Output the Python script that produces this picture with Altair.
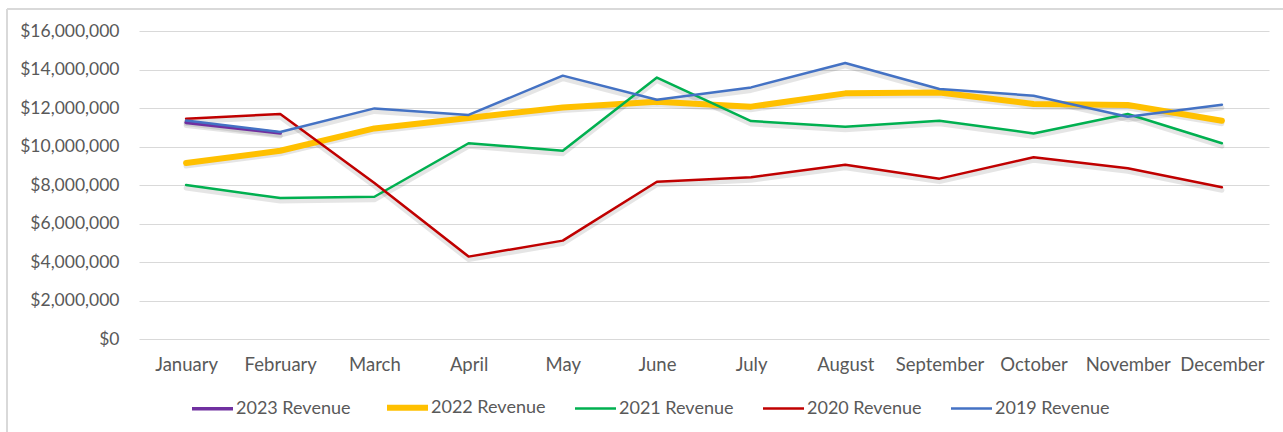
import altair as alt
import pandas as pd

months = ["January", "February", "March", "April", "May", "June", "July",
          "August", "September", "October", "November", "December"]
series_names = ["2023 Revenue", "2022 Revenue", "2021 Revenue", "2020 Revenue", "2019 Revenue"]
rev_2023 = [11250000, 10700000]
rev_2022 = [9140000, 9780000, 10940000, 11480000, 12030000, 12330000, 12070000,
            12760000, 12810000, 12210000, 12160000, 11340000]
rev_2021 = [8000000, 7320000, 7390000, 10170000, 9780000, 13580000, 11320000,
            11030000, 11340000, 10680000, 11690000, 10170000]
rev_2020 = [11440000, 11690000, 8100000, 4280000, 5110000, 8170000, 8400000,
            9050000, 8330000, 9440000, 8870000, 7880000]
rev_2019 = [11350000, 10750000, 11980000, 11640000, 13680000, 12430000, 13070000,
            14340000, 12990000, 12640000, 11550000, 12170000]
colors = ["#7030A0", "#FFC000", "#00B050", "#C00000", "#4472C4"]
widths = [3.5, 6, 2.5, 2.5, 2.5]

rows = []
for name, vals in zip(series_names, [rev_2023, rev_2022, rev_2021, rev_2020, rev_2019]):
    for i, v in enumerate(vals):
        rows.append({"series": name, "month": months[i], "idx": i, "value": v})
df = pd.DataFrame(rows)

FONT = "Lato"
TXT = "#595959"
GRID = "#D9D9D9"

x = alt.X("month:N", sort=months, title=None,
          scale=alt.Scale(type="point", padding=0.5),
          axis=alt.Axis(labelAngle=0, domain=False, ticks=False, grid=False,
                        labelPadding=16, labelFontSize=18.5, labelColor=TXT, labelFont=FONT))
y = alt.Y("value:Q", title=None,
          scale=alt.Scale(domain=[0, 16000000], nice=False),
          axis=alt.Axis(values=list(range(0, 16000001, 2000000)), format="$,.0f",
                        domain=False, ticks=False, grid=True, gridColor=GRID, gridWidth=1.2,
                        labelPadding=20, labelFontSize=17.5, labelColor=TXT, labelFont=FONT))

base = alt.Chart(df)

shadow = base.mark_line(color="black", opacity=0.10, strokeWidth=5, yOffset=3,
                        strokeCap="round", strokeJoin="round").encode(
    x=x, y=y, detail="series:N", order="idx:Q")

lines = base.mark_line(strokeCap="round", strokeJoin="round").encode(
    x=x, y=y,
    color=alt.Color("series:N", title=None,
                    scale=alt.Scale(domain=series_names, range=colors),
                    legend=alt.Legend(orient="none", legendX=50, legendY=353,
                                      direction="horizontal", columns=5,
                                      symbolType="stroke", symbolSize=1681,
                                      labelFontSize=18, labelColor=TXT, labelFont=FONT,
                                      labelOffset=0, columnPadding=24)),
    strokeWidth=alt.StrokeWidth("series:N", title=None,
                                scale=alt.Scale(type="ordinal", domain=series_names, range=widths)),
    order="idx:Q",
)

frame_top = alt.Chart().mark_rule(color=GRID, strokeWidth=1.5).encode(
    x=alt.value(-132), x2=alt.value(1144), y=alt.value(-22))
frame_left = alt.Chart().mark_rule(color=GRID, strokeWidth=1.5).encode(
    x=alt.value(-132), y=alt.value(-22), y2=alt.value(401))

chart = alt.layer(frame_top, frame_left, shadow, lines, data=df).properties(
    width=1130, height=308,
    autosize=alt.AutoSizeParams(type="none"),
    padding={"left": 139, "top": 31, "right": 14, "bottom": 93},
    background="white",
).configure_view(stroke=None)

chart.save("out.html", embed_options={"renderer": "svg", "actions": False})
